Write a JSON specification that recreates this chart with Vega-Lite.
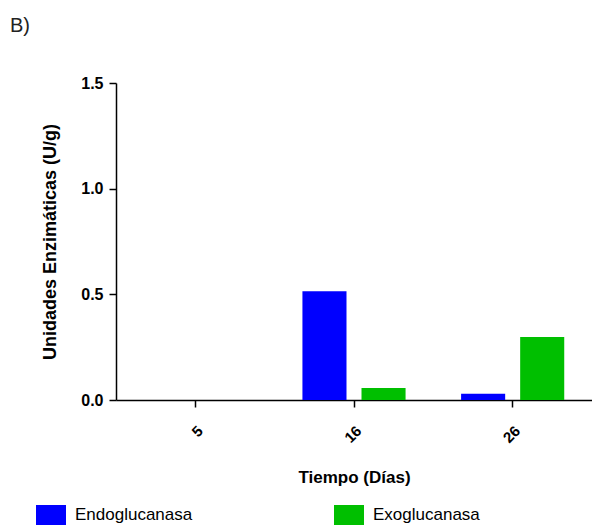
{
  "$schema": "https://vega.github.io/schema/vega-lite/v6.json",
  "width": 476,
  "height": 317,
  "padding": {"left": 10, "top": 16, "right": 0, "bottom": 0},
  "background": "white",
  "title": {"text": "B)", "anchor": "start", "frame": "group", "dx": -106, "offset": 39, "font": "Liberation Sans", "fontSize": 20, "fontWeight": "normal", "color": "#222"},
  "data": {"values": [
    {"dia": "5", "enzima": "Endoglucanasa", "valor": 0},
    {"dia": "5", "enzima": "Exoglucanasa", "valor": 0},
    {"dia": "16", "enzima": "Endoglucanasa", "valor": 0.515},
    {"dia": "16", "enzima": "Exoglucanasa", "valor": 0.057},
    {"dia": "26", "enzima": "Endoglucanasa", "valor": 0.03},
    {"dia": "26", "enzima": "Exoglucanasa", "valor": 0.298}
  ]},
  "mark": {"type": "bar"},
  "encoding": {
    "x": {"field": "dia", "type": "nominal", "sort": ["5", "16", "26"],
      "scale": {"paddingInner": 0, "paddingOuter": 0},
      "axis": {"title": "Tiempo (Días)", "labelAngle": -45, "labelFont": "Liberation Sans", "labelFontWeight": "bold", "labelFontSize": 15, "labelColor": "#000", "labelPadding": 16, "tickColor": "#000", "tickSize": 7, "tickWidth": 1.5, "domainColor": "#000", "domainWidth": 1.5, "titleFont": "Liberation Sans", "titleFontSize": 17, "titleFontWeight": "bold", "titleColor": "#000", "titlePadding": 24, "grid": false}},
    "xOffset": {"field": "enzima", "type": "nominal", "scale": {"paddingInner": 0.254, "paddingOuter": 0.47}},
    "y": {"field": "valor", "type": "quantitative", "scale": {"domain": [0, 1.5], "nice": false},
      "axis": {"title": "Unidades Enzimáticas (U/g)", "values": [0, 0.5, 1.0, 1.5], "format": ".1f", "labelFont": "Liberation Sans", "labelFontWeight": "bold", "labelFontSize": 16, "labelColor": "#000", "labelPadding": 6, "tickColor": "#000", "tickSize": 7, "tickWidth": 1.5, "domainColor": "#000", "domainWidth": 1.5, "titleFont": "Liberation Sans", "titleFontSize": 18, "titleFontWeight": "bold", "titleColor": "#000", "titlePadding": 21, "grid": false}},
    "color": {"field": "enzima", "type": "nominal",
      "scale": {"domain": ["Endoglucanasa", "Exoglucanasa"], "range": ["#0000FF", "#00BF00"]},
      "legend": {"title": null, "orient": "none", "legendX": -75, "legendY": 422, "direction": "horizontal", "columns": 2, "columnPadding": 141, "symbolType": "M-1.5,-1L1.5,-1L1.5,1L-1.5,1Z", "symbolSize": 400, "symbolStrokeWidth": 0, "symbolOpacity": 1, "labelFont": "Liberation Sans", "labelFontSize": 17, "labelColor": "#000", "labelOffset": 14, "labelLimit": 300}}
  },
  "config": {"view": {"stroke": null}}
}
